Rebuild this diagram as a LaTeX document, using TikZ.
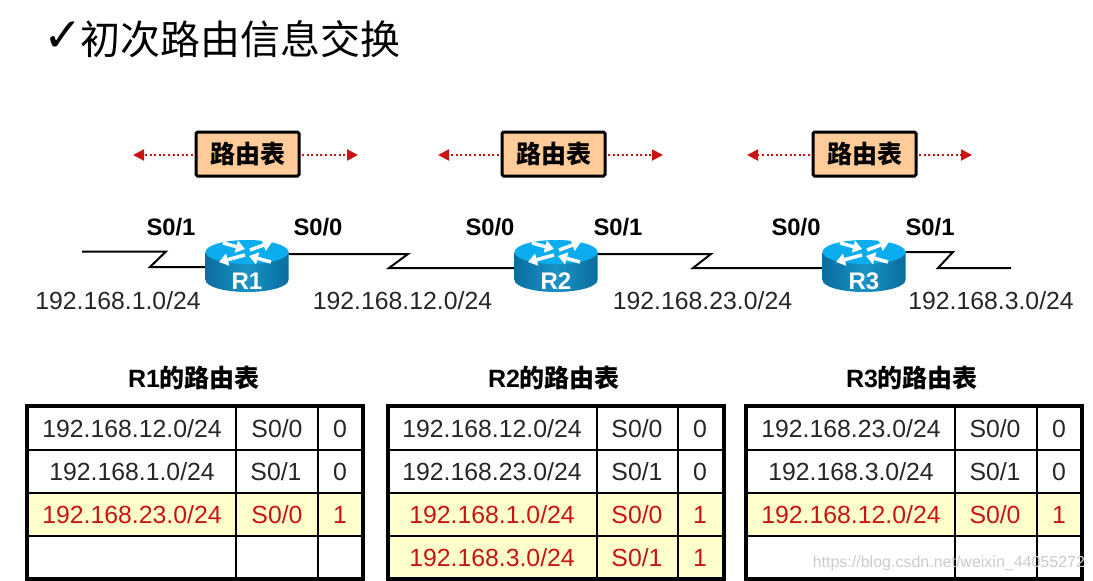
\documentclass[tikz,border=0pt]{standalone}
\usepackage{fontspec}
\setmainfont{Liberation Sans}
\newfontfamily\cjk{Noto Sans CJK SC}
\newfontfamily\symfont{DejaVu Sans}
\usetikzlibrary{arrows.meta}
\definecolor{rtred}{HTML}{C81414}
\definecolor{rtink}{HTML}{262626}
\definecolor{rtyellow}{HTML}{FFFFCC}
\definecolor{rtorange}{HTML}{FFCC99}
\definecolor{rttop}{HTML}{0CADEF}
\definecolor{rtdark}{HTML}{0A6E9E}
\definecolor{rtmid}{HTML}{1A93C6}
\tikzset{
  x=1pt,y=-1pt,
  every node/.style={inner sep=0pt,outer sep=0pt},
  cell/.style={font=\fontsize{24.8}{28}\selectfont,text=rtink,text height=18pt,text depth=0pt,anchor=center},
  hot/.style={cell,text=rtred},
  netlabel/.style={font=\fontsize{24.8}{28}\selectfont,text=rtink,text height=18pt,text depth=0pt},
  portlabel/.style={font=\fontsize{23.8}{28}\selectfont\bfseries,text=black,text height=18pt,text depth=0pt},
  rtbox/.style={draw=black,line width=3pt,fill=rtorange,rounded corners=1.5pt,minimum width=103pt,minimum height=44pt,font=\fontsize{25}{30}\selectfont\cjk\bfseries},
  tabletitle/.style={font=\fontsize{25}{30}\selectfont\bfseries},
  link/.style={draw=black,line width=2pt,line join=miter},
  flood/.style={draw=rtred,line width=2pt,dash pattern=on 2pt off 2.6pt,-{Triangle[length=11pt,width=11pt,fill=rtred]}},
  rtarrow/.style={draw=white,line width=3.5pt,-{Triangle[length=9pt,width=12pt,fill=white]}},
  grid/.style={draw=black,line width=2pt},
  frame/.style={draw=black,line width=4.5pt},
  routerbox/.style={minimum width=83pt,minimum height=52pt}
}
% router: #1 name, #2 centre x, #3 label
\newcommand{\routerpic}[3]{%
  \shade[left color=rtdark,right color=rtdark,middle color=rtmid]
    (#2-41.5,252) -- (#2-41.5,280) arc[x radius=41.5,y radius=12,start angle=180,end angle=0] -- (#2+41.5,252) -- cycle;
  \fill[rttop] (#2,252) ellipse[x radius=41.5,y radius=12];
  \draw[rtarrow] (#2+3,250) -- (#2+25,242);
  \draw[rtarrow] (#2-24,243) -- (#2-2,249);
  \draw[rtarrow] (#2-2,255) -- (#2-28,262);
  \draw[rtarrow] (#2+24,262) -- (#2+2,256);
  \node[font=\fontsize{24}{28}\selectfont\bfseries,text=white] at (#2,281) {#3};
}
% table: id, x left, col a, col b, x right, yellow from row-y, yellow to row-y
\newcommand{\rtgrid}[7]{%
  \fill[white] (#2,406) rectangle (#5,579);
  \fill[rtyellow] (#2,#6) rectangle (#5,#7);
  \draw[grid] (#3,406) -- (#3,579);
  \draw[grid] (#4,406) -- (#4,579);
  \draw[grid] (#2,449.5) -- (#5,449.5);
  \draw[grid] (#2,492.5) -- (#5,492.5);
  \draw[grid] (#2,535.5) -- (#5,535.5);
  \draw[frame] (#2,406) rectangle (#5,579);
}
\begin{document}
\begin{tikzpicture}
\useasboundingbox (0,0) rectangle (1093,581);
\fill[white] (0,0) rectangle (1093,581);
% title
\node[font=\fontsize{47}{50}\selectfont\symfont] (chk) at (63,37) {✓};
\node[font=\fontsize{40}{46}\selectfont\cjk,anchor=west] (ttl) at (80,39) {初次路由信息交换};
% table boxes and flooding arrows
\node[rtbox] (b1) at (247.5,154) {路由表};
\node[rtbox] (b2) at (553.5,154) {路由表};
\node[rtbox] (b3) at (864.5,154) {路由表};
\coordinate (f1l) at (133,155); \coordinate (f1r) at (358,155);
\coordinate (f2l) at (438,155); \coordinate (f2r) at (663,155);
\coordinate (f3l) at (747,155); \coordinate (f3r) at (972,155);
\draw[flood] (b1.west) ++(-3,1) -- (f1l);
\draw[flood] (b1.east) ++(3,1) -- (f1r);
\draw[flood] (b2.west) ++(-3,1) -- (f2l);
\draw[flood] (b2.east) ++(3,1) -- (f2r);
\draw[flood] (b3.west) ++(-3,1) -- (f3l);
\draw[flood] (b3.east) ++(3,1) -- (f3r);
% routers anchors
\node[routerbox] (R1) at (247,266) {};
\node[routerbox] (R2) at (556,266) {};
\node[routerbox] (R3) at (864,266) {};
\coordinate (e1) at (82,251.5);
\coordinate (e3) at (1011,268);
% links
\draw[link] (e1) -- (166,251.5) -- (150,267) -- (R1.west |- 0,267);
\draw[link] (R1.east |- 0,254) -- (408,254) -- (389,268) -- (R2.west |- 0,268);
\draw[link] (R2.east |- 0,254) -- (711,254) -- (693,268) -- (R3.west |- 0,268);
\draw[link] (R3.east |- 0,252) -- (953,252) -- (938,268) -- (e3);
\routerpic{R1}{247}{R1}
\routerpic{R2}{556}{R2}
\routerpic{R3}{864}{R3}
% port labels
\node[portlabel] (p1) at (171,226) {S0/1};
\node[portlabel] (p2) at (318,226) {S0/0};
\node[portlabel] (p3) at (490,226) {S0/0};
\node[portlabel] (p4) at (618,226) {S0/1};
\node[portlabel] (p5) at (796,226) {S0/0};
\node[portlabel] (p6) at (930,226) {S0/1};
% network labels
\node[netlabel] (n1) at (118,300.5) {192.168.1.0/24};
\node[netlabel] (n2) at (402.5,300.5) {192.168.12.0/24};
\node[netlabel] (n3) at (702.5,300.5) {192.168.23.0/24};
\node[netlabel] (n4) at (991,300.5) {192.168.3.0/24};
% table titles
\node[tabletitle] (t1) at (194,378) {R1{\cjk 的路由表}};
\node[tabletitle] (t2) at (554,378) {R2{\cjk 的路由表}};
\node[tabletitle] (t3) at (912,378) {R3{\cjk 的路由表}};
% tables
\rtgrid{A}{27}{236}{318}{363}{492.5}{535.5}
\rtgrid{B}{388}{597}{678}{724}{492.5}{579}
\rtgrid{C}{746}{955}{1037}{1082}{492.5}{535.5}
\node[cell] (a11) at (132,428.5) {192.168.12.0/24};
\node[cell] (a12) at (277,428.5) {S0/0};
\node[cell] (a13) at (340,428.5) {0};
\node[cell] (a21) at (132,471.5) {192.168.1.0/24};
\node[cell] (a22) at (276,471.5) {S0/1};
\node[cell] (a23) at (340,471.5) {0};
\node[hot] (a31) at (132,514.5) {192.168.23.0/24};
\node[hot] (a32) at (277,514.5) {S0/0};
\node[hot] (a33) at (340,514.5) {1};
\node[cell] (b11) at (492,428.5) {192.168.12.0/24};
\node[cell] (b12) at (637,428.5) {S0/0};
\node[cell] (b13) at (700,428.5) {0};
\node[cell] (b21) at (492,471.5) {192.168.23.0/24};
\node[cell] (b22) at (637,471.5) {S0/1};
\node[cell] (b23) at (700,471.5) {0};
\node[hot] (b31) at (492,514.5) {192.168.1.0/24};
\node[hot] (b32) at (637,514.5) {S0/0};
\node[hot] (b33) at (700,514.5) {1};
\node[hot] (b41) at (492,557.5) {192.168.3.0/24};
\node[hot] (b42) at (637,557.5) {S0/1};
\node[hot] (b43) at (700,557.5) {1};
\node[cell] (c11) at (851,428.5) {192.168.23.0/24};
\node[cell] (c12) at (995,428.5) {S0/0};
\node[cell] (c13) at (1059,428.5) {0};
\node[cell] (c21) at (851,471.5) {192.168.3.0/24};
\node[cell] (c22) at (995,471.5) {S0/1};
\node[cell] (c23) at (1059,471.5) {0};
\node[hot] (c31) at (851,514.5) {192.168.12.0/24};
\node[hot] (c32) at (995,514.5) {S0/0};
\node[hot] (c33) at (1059,514.5) {1};
% watermark
\node[font=\fontsize{16}{18}\selectfont,text=black!20,anchor=east] (wm) at (1085,563) {https://blog.csdn.net/weixin\_44055272};
\end{tikzpicture}
\end{document}
